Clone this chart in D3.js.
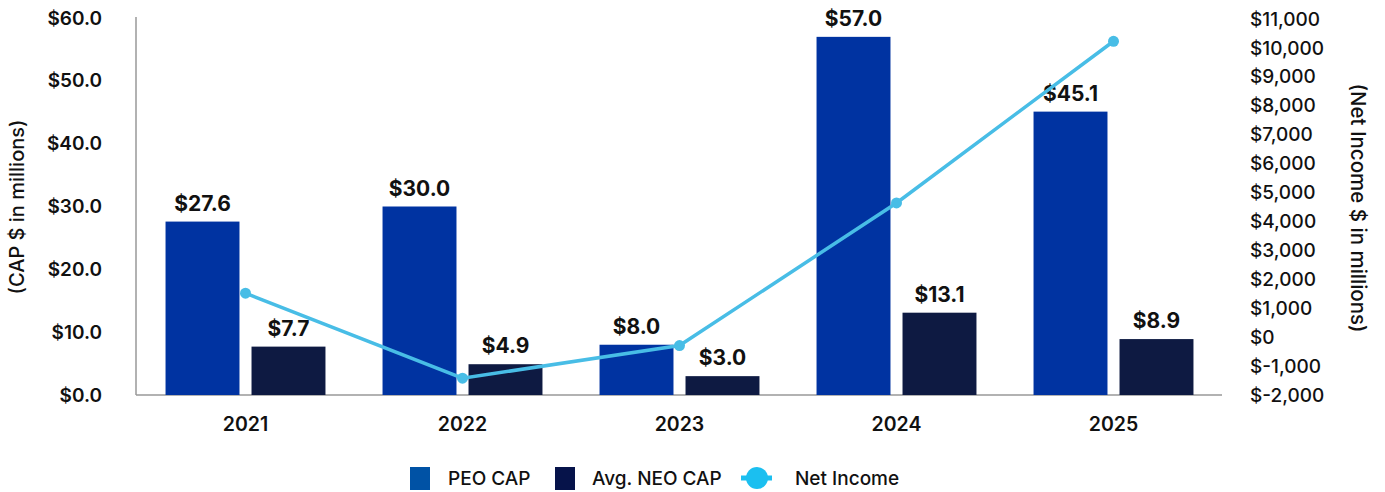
<!DOCTYPE html>
<html>
<head>
<meta charset="utf-8">
<script src="https://cdn.jsdelivr.net/npm/d3@7"></script>
<style>
  body { margin: 0; background: #fff; }
  svg { display: block; font-family: Inter, "Noto Sans", sans-serif; }
</style>
</head>
<body>
<svg id="chart" width="1385" height="492"></svg>
<script>
// Data
const years = ['2021', '2022', '2023', '2024', '2025'];
const peoCap = [27.6, 30.0, 8.0, 57.0, 45.1];
const neoCap = [7.7, 4.9, 3.0, 13.1, 8.9];
const netIncome = [1520, -1420, -290, 4640, 10230];
const leftTicks = [0, 10, 20, 30, 40, 50, 60];
const rightTicks = [-2000, -1000, 0, 1000, 2000, 3000, 4000, 5000, 6000, 7000, 8000, 9000, 10000, 11000];
const seriesNames = ['PEO CAP', 'Avg. NEO CAP'];

const svg = d3.select('#chart');
const plotLeft = 137, plotRight = 1222, plotTop = 18, plotBottom = 395;

const x = d3.scaleBand()
    .domain(years)
    .range([plotLeft, plotRight])
    .paddingInner(0.263)
    .paddingOuter(0.1315);

const xSub = d3.scaleBand()
    .domain(seriesNames)
    .range([0, x.bandwidth()])
    .paddingInner(0.14);

const yLeft = d3.scaleLinear().domain([0, 60]).range([plotBottom, plotTop]);
const yRight = d3.scaleLinear().domain([-2000, 11000]).range([plotBottom, plotTop + 1]);

const colors = { 'PEO CAP': '#0033a1', 'Avg. NEO CAP': '#0e1a42' };
const lineColor = '#48bde6';
const fmtThousands = d3.formatLocale({ decimal: '.', thousands: ',', grouping: [3], currency: ['$', ''], minus: '-' }).format(',');

// Left axis labels
svg.append('g')
    .selectAll('text')
    .data(leftTicks)
    .enter()
    .append('text')
    .attr('x', 102)
    .attr('y', d => yLeft(d))
    .attr('dy', '0.35em')
    .attr('text-anchor', 'end')
    .attr('font-size', '19px')
    .attr('font-weight', 600)
    .attr('fill', '#111')
    .text(d => '$' + d.toFixed(1));

// Right axis labels
svg.append('g')
    .selectAll('text')
    .data(rightTicks)
    .enter()
    .append('text')
    .attr('x', 1250)
    .attr('y', d => yRight(d))
    .attr('dy', '0.35em')
    .attr('text-anchor', 'start')
    .attr('font-size', '19px')
    .attr('font-weight', 500)
    .attr('fill', '#111')
    .text(d => '$' + fmtThousands(d));

// Axis titles
svg.append('text')
    .attr('transform', 'translate(24, 207) rotate(-90)')
    .attr('text-anchor', 'middle')
    .attr('font-size', '20px')
    .attr('font-weight', 500)
    .attr('fill', '#111')
    .text('(CAP $ in millions)');

svg.append('text')
    .attr('transform', 'translate(1351, 208) rotate(90)')
    .attr('text-anchor', 'middle')
    .attr('font-size', '20.5px')
    .attr('font-weight', 500)
    .attr('fill', '#111')
    .text('(Net Income $ in millions)');

// Axis lines
svg.append('line')
    .attr('x1', plotLeft - 1).attr('x2', plotLeft - 1)
    .attr('y1', plotTop - 1).attr('y2', plotBottom)
    .attr('stroke', '#999').attr('stroke-width', 1.5);
svg.append('line')
    .attr('x1', plotLeft - 1).attr('x2', plotRight)
    .attr('y1', plotBottom).attr('y2', plotBottom)
    .attr('stroke', '#999').attr('stroke-width', 1.5);

// Bars
const rows = years.map((yr, i) => ({ year: yr, values: [
    { name: 'PEO CAP', value: peoCap[i] },
    { name: 'Avg. NEO CAP', value: neoCap[i] }
] }));

const groups = svg.append('g')
    .selectAll('g')
    .data(rows)
    .enter()
    .append('g')
    .attr('transform', d => `translate(${x(d.year)}, 0)`);

groups.selectAll('rect')
    .data(d => d.values)
    .enter()
    .append('rect')
    .attr('x', d => xSub(d.name))
    .attr('y', d => yLeft(d.value))
    .attr('width', xSub.bandwidth())
    .attr('height', d => plotBottom - yLeft(d.value))
    .attr('fill', d => colors[d.name]);

groups.selectAll('text.val')
    .data(d => d.values)
    .enter()
    .append('text')
    .attr('class', 'val')
    .attr('x', d => xSub(d.name) + xSub.bandwidth() / 2)
    .attr('y', d => yLeft(d.value) - 11)
    .attr('text-anchor', 'middle')
    .attr('font-size', '21px')
    .attr('font-weight', 700)
    .attr('fill', '#111')
    .text(d => '$' + d.value.toFixed(1));

// X labels
svg.append('g')
    .selectAll('text')
    .data(years)
    .enter()
    .append('text')
    .attr('x', d => x(d) + x.bandwidth() / 2)
    .attr('y', 424)
    .attr('dy', '0.35em')
    .attr('text-anchor', 'middle')
    .attr('font-size', '19.5px')
    .attr('font-weight', 600)
    .attr('fill', '#111')
    .text(d => d);

// Net income line
const pts = years.map((yr, i) => ({ year: yr, value: netIncome[i] }));
const line = d3.line()
    .x(d => x(d.year) + x.bandwidth() / 2)
    .y(d => yRight(d.value));

svg.append('path')
    .datum(pts)
    .attr('d', line)
    .attr('fill', 'none')
    .attr('stroke', lineColor)
    .attr('stroke-width', 3.5);

svg.append('g')
    .selectAll('circle')
    .data(pts)
    .enter()
    .append('circle')
    .attr('cx', d => x(d.year) + x.bandwidth() / 2)
    .attr('cy', d => yRight(d.value))
    .attr('r', 5.5)
    .attr('fill', lineColor);

// Legend
const legend = svg.append('g');
legend.append('rect')
    .attr('x', 410).attr('y', 467).attr('width', 20).attr('height', 23)
    .attr('fill', '#0052a5');
legend.append('text')
    .attr('x', 448).attr('y', 478).attr('dy', '0.35em')
    .attr('font-size', '19px').attr('font-weight', 500).attr('fill', '#111')
    .text('PEO CAP');
legend.append('rect')
    .attr('x', 555).attr('y', 467).attr('width', 20).attr('height', 23)
    .attr('fill', '#06134a');
legend.append('text')
    .attr('x', 592).attr('y', 478).attr('dy', '0.35em')
    .attr('font-size', '19px').attr('font-weight', 500).attr('fill', '#111')
    .text('Avg. NEO CAP');
legend.append('line')
    .attr('x1', 741).attr('x2', 772).attr('y1', 478).attr('y2', 478)
    .attr('stroke', '#1bbff0').attr('stroke-width', 5);
legend.append('circle')
    .attr('cx', 757).attr('cy', 478).attr('r', 11)
    .attr('fill', '#1bbff0');
legend.append('text')
    .attr('x', 795).attr('y', 478).attr('dy', '0.35em')
    .attr('font-size', '19px').attr('font-weight', 500).attr('fill', '#111')
    .text('Net Income');
</script>
</body>
</html>
